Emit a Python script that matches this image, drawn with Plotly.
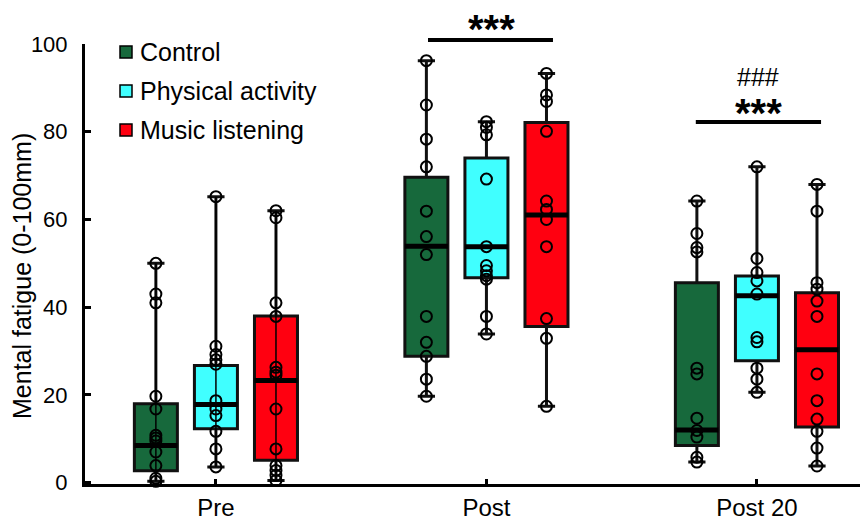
import plotly.graph_objects as go

# ---------------- data ----------------
groups = ["Pre", "Post", "Post 20"]
series = ["Control", "Physical activity", "Music listening"]
colors = ["#17693C", "#40FFFF", "#FF0010"]

# individual points per series, per time point
points = {
    "Control": [
        [50, 43, 41, 19.7, 16.8, 10.8, 10.2, 9.5, 7, 3.9, 1.0, 0.3],
        [96.2, 86.1, 78.3, 72, 61.9, 56.1, 52, 37.9, 32, 28.8, 23.6, 19.7],
        [64.2, 56.8, 53.6, 52.6, 26.1, 24.8, 14.7, 11.9, 10.4, 5.8, 4.7],
    ],
    "Physical activity": [
        [65.2, 31.1, 29.2, 28.0, 27.0, 18.7, 16.8, 15.3, 11.7, 7.7, 3.6],
        [82.3, 81, 79.3, 69.2, 53.8, 49.5, 48.3, 47.2, 46.4, 37.9, 33.9],
        [72, 51.1, 47.9, 46, 43, 33.1, 32.1, 26.1, 23.6, 20.6],
    ],
    "Music listening": [
        [62, 60.4, 41, 37.9, 26.3, 25.2, 24.5, 16.8, 7.7, 3.9, 2.8, 1.7, 0.5],
        [93.3, 88.4, 86.9, 80.1, 64.2, 62.3, 60, 53.8, 37.4, 32.9, 17.4],
        [68, 61.9, 45.6, 44.1, 41.4, 37.9, 24.8, 18.7, 14.5, 11.7, 7.9, 3.8],
    ],
}

# box statistics as drawn in the reference (per time point)
q1 = {
    "Control": [2.7, 28.8, 8.5],
    "Physical activity": [12.3, 46.7, 27.8],
    "Music listening": [5.1, 35.6, 12.7],
}
median = {
    "Control": [8.5, 53.9, 12.0],
    "Physical activity": [17.8, 53.8, 42.6],
    "Music listening": [23.3, 61.0, 30.3],
}
q3 = {
    "Control": [18.0, 69.6, 45.6],
    "Physical activity": [26.7, 74.0, 47.1],
    "Music listening": [38.0, 82.1, 43.3],
}

y_ticks = [0, 20, 40, 60, 80, 100]
y_title = "Mental fatigue (0-100mm)"

# significance marks
sig_post_text = "***"
sig_post20_text = "***"
sig_post20_hash = "###"

# ---------------- geometry / style ----------------
W, H = 864, 520
ML, MR, MT, MB = 85, 4, 44, 36
offsets = [-0.222, 0.0, 0.222]
box_w = 0.159
x_range = [-0.484, 2.381]
y_range = [-0.3, 100]
FONT = "Liberation Sans, Arial, sans-serif"

plot_w = W - ML - MR
plot_h = H - MT - MB
box_px = box_w * plot_w / (x_range[1] - x_range[0])


def px_to_paper_x(px):
    return (px - ML) / plot_w


def px_to_paper_y(py):
    return (H - MB - py) / plot_h


fig = go.Figure()

# boxes
for s, name in enumerate(series):
    for g in range(len(groups)):
        pts = points[name][g]
        fig.add_trace(go.Box(
            x=[g + offsets[s]],
            q1=[q1[name][g]], median=[median[name][g]], q3=[q3[name][g]],
            lowerfence=[min(pts)], upperfence=[max(pts)],
            width=box_w, whiskerwidth=0.4,
            fillcolor=colors[s],
            line=dict(color="#111111", width=3),
            boxpoints=False, showlegend=False, hoverinfo="skip",
        ))

# points
for s, name in enumerate(series):
    for g in range(len(groups)):
        pts = sorted(points[name][g])
        fig.add_trace(go.Scatter(
            x=[g + offsets[s]] * len(pts), y=pts,
            mode="lines+markers" if g == 0 else "markers",
            line=dict(color="black", width=1.5),
            marker=dict(symbol="circle-open", size=11, color="black",
                        line=dict(color="black", width=2)),
            cliponaxis=False, showlegend=False, hoverinfo="skip",
        ))

# thick medians (line-ew symbol spans 1.4 * size)
for s, name in enumerate(series):
    fig.add_trace(go.Scatter(
        x=[g + offsets[s] for g in range(len(groups))], y=median[name],
        mode="markers",
        marker=dict(symbol="line-ew", size=box_px / 1.4,
                    color="black", line=dict(color="black", width=5)),
        cliponaxis=False, showlegend=False, hoverinfo="skip",
    ))

shapes = []
annotations = []

# legend (squares + labels)
leg_y = [52, 91, 130]
for s, name in enumerate(series):
    cx, cy = 126, leg_y[s]
    shapes.append(dict(type="rect", xref="paper", yref="paper",
                       x0=px_to_paper_x(cx - 6), x1=px_to_paper_x(cx + 6),
                       y0=px_to_paper_y(cy + 6), y1=px_to_paper_y(cy - 6),
                       fillcolor=colors[s], line=dict(color="black", width=1.5)))
    annotations.append(dict(xref="paper", yref="paper",
                            x=px_to_paper_x(138), y=px_to_paper_y(cy),
                            xanchor="left", yanchor="middle", showarrow=False,
                            text=name, font=dict(size=25, color="black", family=FONT)))

# significance lines
shapes.append(dict(type="line", xref="x", yref="paper", x0=0.784, x1=1.246,
                   y0=px_to_paper_y(40), y1=px_to_paper_y(40),
                   line=dict(color="black", width=4)))
shapes.append(dict(type="line", xref="x", yref="paper", x0=1.774, x1=2.237,
                   y0=px_to_paper_y(122), y1=px_to_paper_y(122),
                   line=dict(color="black", width=4)))
annotations.append(dict(xref="paper", yref="paper", x=px_to_paper_x(491),
                        y=px_to_paper_y(29),
                        text="<b>" + sig_post_text + "</b>", showarrow=False,
                        xanchor="center", yanchor="middle",
                        font=dict(size=40, color="black", family=FONT)))
annotations.append(dict(xref="paper", yref="paper", x=px_to_paper_x(758),
                        y=px_to_paper_y(113),
                        text="<b>" + sig_post20_text + "</b>", showarrow=False,
                        xanchor="center", yanchor="middle",
                        font=dict(size=40, color="black", family=FONT)))
annotations.append(dict(xref="paper", yref="paper", x=px_to_paper_x(758),
                        y=px_to_paper_y(77), text=sig_post20_hash, showarrow=False,
                        xanchor="center", yanchor="middle",
                        font=dict(size=25, color="black", family=FONT)))
# y-axis title
annotations.append(dict(xref="paper", yref="paper", x=px_to_paper_x(22),
                        y=px_to_paper_y(276), text=y_title, textangle=-90,
                        showarrow=False, xanchor="center", yanchor="middle",
                        font=dict(size=25, color="black", family=FONT)))

fig.update_layout(
    width=W, height=H,
    margin=dict(l=ML, r=MR, t=MT, b=MB, pad=0),
    paper_bgcolor="white", plot_bgcolor="white",
    font=dict(family=FONT, color="black"),
    showlegend=False,
    shapes=shapes, annotations=annotations,
    xaxis=dict(range=x_range, tickvals=list(range(len(groups))), ticktext=groups,
               ticks="inside", ticklen=5, tickwidth=3, tickcolor="black",
               showline=True, linewidth=3, linecolor="black",
               showgrid=False, zeroline=False, automargin=False,
               tickfont=dict(size=24, family=FONT, color="black")),
    yaxis=dict(range=y_range, tickvals=y_ticks,
               ticks="inside", ticklen=6, tickwidth=3, tickcolor="black",
               showline=True, linewidth=3, linecolor="black",
               showgrid=False, zeroline=False, ticklabelstandoff=10,
               automargin=False,
               tickfont=dict(size=22, family=FONT, color="black")),
)

fig.write_html("out.html")
